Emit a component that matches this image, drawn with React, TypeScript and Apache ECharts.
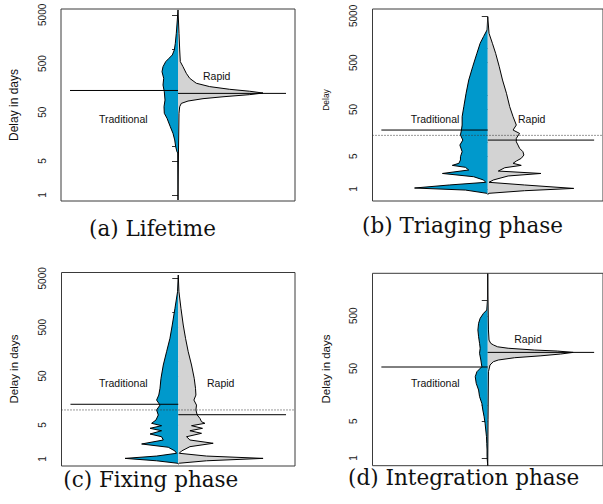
import React, { useEffect, useRef } from "react";
import * as echarts from "echarts";

// ---- data (delay in days, bean density) ----
const tickValues = [1, 5, 10, 50, 100, 500, 1000, 5000];
const labelValues = [1, 5, 50, 500, 5000];

const captions = ["(a) Lifetime", "(b) Triaging phase", "(c) Fixing phase", "(d) Integration phase"];
const yTitles = ["Delay in days", "Delay", "Delay in days", "Delay in days"];
const groupNames = ["Traditional", "Rapid"];

const lifetimeTraditional: [number, number][] = [
  [6300, 0], [3920, 0.7], [2090, 1.7], [1300, 2.7], [950, 3.7], [750, 5.7], [641, 9], [547, 12.3],
  [431, 15], [340, 16], [249, 14.3], [181, 15], [132, 13.7], [89, 13], [65, 14], [47.6, 13.7],
  [37.6, 11], [25.2, 7.7], [18.4, 5], [13.5, 3.3], [9.8, 2.3], [7.7, 1], [7.3, 0.3], [0.79, 0],
];
const lifetimeRapid: [number, number][] = [
  [6300, 0], [2090, 1], [950, 1.7], [547, 2.3], [431, 5], [315, 8.3], [249, 11.7], [197, 18.3],
  [168, 31.7], [148, 51.7], [135, 71.7], [124, 85], [115, 71.7], [104, 45], [95, 25], [85, 10],
  [76, 3.3], [65, 1.7], [47.6, 1], [8.4, 0.5], [0.79, 0],
];
const triagingTraditional: [number, number][] = [
  [4810, 0], [2500, 0.7], [1800, 4.3], [1300, 7.7], [793, 11], [410, 15.3], [213, 19.3], [111, 22],
  [57.4, 24.3], [35.1, 26], [23.3, 26], [18.2, 26.7], [14.3, 27.7], [11.1, 25.3], [8.7, 28.3],
  [6.27, 26], [4.9, 27.7], [4.17, 27.7], [3.54, 29.3], [3.2, 36], [2.91, 22.7], [2.55, 19.3],
  [2.15, 46], [1.83, 14.3], [1.56, 4.3], [1.39, 2], [1.22, 39], [1.05, 74.3], [0.95, 22.7],
  [0.81, 1], [0.77, 0],
];
const triagingRapid: [number, number][] = [
  [4810, 0], [2120, 1.3], [1300, 4.7], [793, 8], [410, 11.7], [213, 15], [111, 19], [57.4, 22.3],
  [35.1, 25.7], [23.3, 29], [18.2, 25.7], [15.4, 32.3], [12.1, 29], [10.2, 29], [8.7, 30.7],
  [7.4, 32.3], [6.27, 35.7], [5.32, 36.7], [4.52, 34], [3.96, 29], [3.54, 25.7], [3.2, 34],
  [2.85, 17.3], [2.42, 10.7], [2.15, 54], [1.9, 20.7], [1.56, 5.7], [1.39, 1.3], [1.22, 37.3],
  [1.03, 87.3], [0.92, 37.3], [0.81, 1.3], [0.77, 0],
];
const fixingTraditional: [number, number][] = [
  [5840, 0], [2660, 0.7], [1217, 3.3], [553, 6], [296, 8.3], [157, 11.7], [84, 15], [44.9, 17.3],
  [28, 18.3], [20.4, 19.5], [16.1, 21.7], [12.7, 18.3], [10.1, 21.7], [7.96, 20], [6.29, 22.3],
  [5.38, 26.7], [4.81, 16.7], [4.25, 28.3], [3.79, 16.7], [3.25, 28.3], [2.86, 16.7], [2.45, 15],
  [2.03, 36.7], [1.74, 10], [1.46, 3.3], [1.31, 1.7], [1.15, 21.7], [1.03, 53.3], [0.92, 21.7],
  [0.82, 1], [0.79, 0],
];
const fixingRapid: [number, number][] = [
  [5840, 0], [2660, 0.7], [1217, 2.7], [553, 5], [296, 7.3], [157, 10], [84, 13.3], [44.9, 16],
  [28, 17.3], [20.4, 17.7], [16.1, 15.7], [12.7, 18.3], [10.1, 17.7], [7.96, 19], [6.81, 21.7],
  [5.8, 23.3], [5.38, 26.7], [4.81, 13.3], [4.25, 24.3], [3.79, 11.7], [3.36, 23.3], [2.86, 8.3],
  [2.45, 11.7], [2.1, 35], [1.79, 11.7], [1.46, 3.3], [1.31, 1], [1.15, 28.3], [1.03, 85],
  [0.92, 28.3], [0.82, 1], [0.79, 0],
];
const integrationTraditional: [number, number][] = [
  [3150, 0], [1000, 0.3], [643, 1], [557, 4.3], [448, 7.7], [360, 9.3], [269, 10], [200, 9.3],
  [150, 8.3], [121, 7.7], [97, 8.3], [72.4, 7], [54, 6], [43.4, 11], [34.9, 12.7], [26.1, 11.7],
  [19.5, 9.3], [14.6, 8.3], [10.9, 6], [8.15, 5], [6.08, 3.7], [4.55, 2.7], [3.4, 2], [2.54, 1.3],
  [1.9, 1], [1.42, 0.7], [1.06, 0.7], [0.79, 0.2], [0.72, 0],
];
const integrationRapid: [number, number][] = [
  [3150, 0], [995, 0.3], [269, 0.7], [173, 1.3], [150, 3], [139, 6], [129, 10], [121, 20.7],
  [112, 47.3], [107, 70.7], [101, 86.7], [94, 74], [87, 54], [80, 27.3], [72.4, 10.7], [67.2, 5.7],
  [58.2, 2.3], [43.4, 0.7], [5.3, 0.3], [0.72, 0],
];

const medianTraditional = [140, 18.2, 13.2, 53.3];
const medianRapid = [122, 11.1, 8.07, 101];
const overallMedian: (number | null)[] = [null, 14.0, 10.1, null];

// ---- layout / style ----
const HALF = 117;
const BEANLINE = 108;
const BLUE = "#0099CC";
const GRAY = "#D3D3D3";
const SANS = "Liberation Sans";

const beans = [
  [lifetimeTraditional, lifetimeRapid],
  [triagingTraditional, triagingRapid],
  [fixingTraditional, fixingRapid],
  [integrationTraditional, integrationRapid],
];

const layout = [
  { box: { left: 61, top: 9, width: 234, height: 192 }, y: [-0.123, 3.819], cap: [152.5, 228], title: [13.5, 105, 12], trad: [123.3, 119], rapid: [216.7, 76] },
  { box: { left: 372.5, top: 9, width: 234, height: 192 }, y: [-0.256, 3.846], cap: [462.5, 225], title: [326, 100, 8.5], trad: [435, 119], rapid: [531.7, 119] },
  { box: { left: 61.5, top: 272.5, width: 233.5, height: 193.5 }, y: [-0.143, 3.818], cap: [150.8, 479], title: [13.5, 369, 11.5], trad: [123.3, 383.3], rapid: [220.7, 383.3] },
  { box: { left: 372.5, top: 273.3, width: 234, height: 192.4 }, y: [-0.146, 3.505], cap: [463.7, 477.5], title: [326, 369, 11.5], trad: [435.3, 383.3], rapid: [528, 339] },
];

function text(x: number, y: number, s: string, font: string, rotation = 0) {
  return {
    type: "text",
    x,
    y,
    rotation,
    silent: true,
    style: {
      text: s,
      font,
      fill: "#111",
      align: "center",
      verticalAlign: "middle",
      textAlign: "center",
      textVerticalAlign: "middle",
    },
  };
}

function beanSeries(i: number, pts: [number, number][], side: number, color: string) {
  return {
    type: "custom",
    coordinateSystem: "cartesian2d",
    xAxisIndex: i,
    yAxisIndex: i,
    silent: true,
    data: [[0, 0]],
    renderItem: (_p: any, api: any) => {
      const points = pts.map(([d, w]) => api.coord([side * w, Math.log10(d)]));
      return {
        type: "group",
        children: [
          { type: "polygon", shape: { points }, style: { fill: color } },
          { type: "polyline", shape: { points }, style: { stroke: "#000", lineWidth: 1, fill: null } },
        ],
      };
    },
  };
}

function lineSeries(i: number, x0: number, x1: number, v: number, dotted = false) {
  return {
    type: "line",
    xAxisIndex: i,
    yAxisIndex: i,
    silent: true,
    symbol: "none",
    z: 5,
    data: [[x0, Math.log10(v)], [x1, Math.log10(v)]],
    lineStyle: { color: dotted ? "#333" : "#000", width: 1, type: dotted ? [1, 2] : "solid" },
  };
}

function buildOption() {
  const grid: any[] = [];
  const xAxis: any[] = [];
  const yAxis: any[] = [];
  const series: any[] = [];
  const graphic: any[] = [];

  layout.forEach((L, i) => {
    grid.push({ ...L.box, show: true, borderColor: "#3a3a3a", borderWidth: 1, backgroundColor: "transparent", containLabel: false });
    xAxis.push({ type: "value", gridIndex: i, min: -HALF, max: HALF, show: false });
    yAxis.push({
      type: "value",
      gridIndex: i,
      min: L.y[0],
      max: L.y[1],
      axisLine: { show: false },
      splitLine: { show: false },
      axisTick: { show: true, length: 6, lineStyle: { color: "#333" }, customValues: tickValues.map(Math.log10) },
      axisLabel: {
        rotate: 90,
        margin: 14,
        fontSize: 10,
        fontFamily: SANS,
        color: "#222",
        customValues: labelValues.map(Math.log10),
        formatter: (v: number) => String(Math.round(Math.pow(10, v))),
      },
    });

    const [trad, rapid] = beans[i];
    series.push(beanSeries(i, trad, -1, BLUE));
    series.push(beanSeries(i, rapid, 1, GRAY));
    const ov = overallMedian[i];
    if (ov !== null) series.push(lineSeries(i, -HALF, HALF, ov, true));
    series.push(lineSeries(i, -BEANLINE, 0, medianTraditional[i]));
    series.push(lineSeries(i, 0, BEANLINE, medianRapid[i]));

    graphic.push(text(L.cap[0], L.cap[1], captions[i], '21.5px "DejaVu Serif"'));
    graphic.push(text(L.title[0], L.title[1], yTitles[i], `${L.title[2]}px "${SANS}"`, Math.PI / 2));
    graphic.push(text(L.trad[0], L.trad[1], groupNames[0], `10.5px "${SANS}"`));
    graphic.push(text(L.rapid[0], L.rapid[1], groupNames[1], `10.5px "${SANS}"`));
  });

  return { animation: false, backgroundColor: "#fff", grid, xAxis, yAxis, series, graphic };
}

export default function App() {
  const ref = useRef<HTMLDivElement>(null);
  useEffect(() => {
    const chart = echarts.init(ref.current!, null, { renderer: "svg" });
    chart.setOption(buildOption() as any);
    return () => chart.dispose();
  }, []);
  return <div ref={ref} style={{ position: "absolute", left: 0, top: 0, width: 603, height: 504 }} />;
}
